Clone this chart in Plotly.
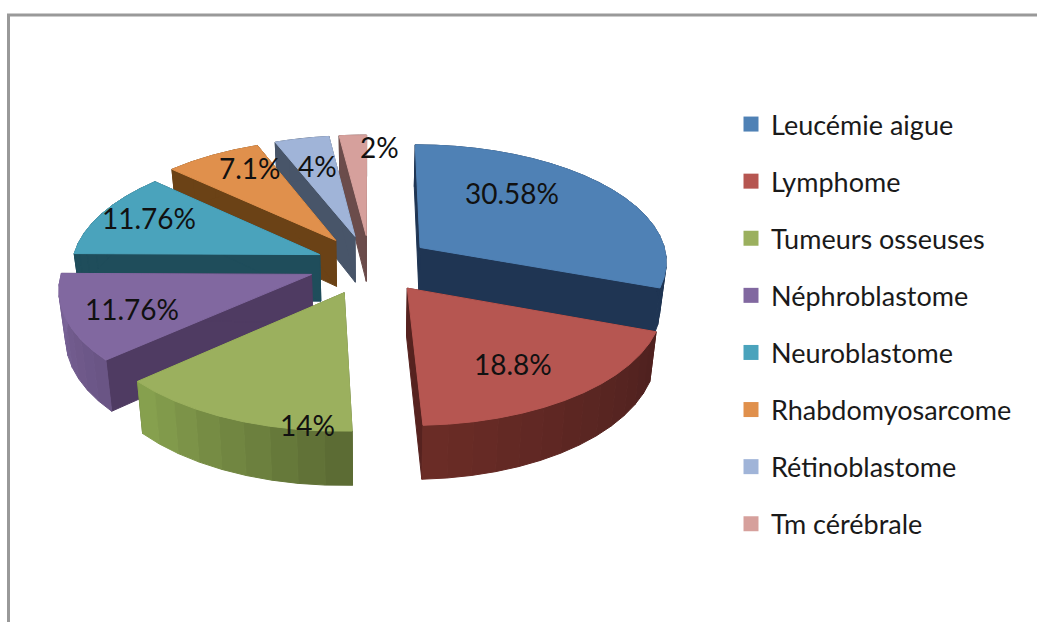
import math
import plotly.graph_objects as go

# ---- data ----
labels = ["Leucémie aigue", "Lymphome", "Tumeurs osseuses", "Néphroblastome",
          "Neuroblastome", "Rhabdomyosarcome", "Rétinoblastome", "Tm cérébrale"]
values = [30.58, 18.8, 14, 11.76, 11.76, 7.1, 4, 2]
value_text = ["30.58%", "18.8%", "14%", "11.76%", "11.76%", "7.1%", "4%", "2%"]
top_colors = ["#4F81B5", "#B65651", "#9BB05E", "#8168A0", "#4AA3BC", "#E0904C", "#A0B4D8", "#D6A09C"]
side_colors = ["#1F3553", "#56221F", "#60703A", "#4F3B62", "#1F4D5B", "#6B4216", "#485569", "#6B4C4B"]
outer_left = ["#1F3553", "#6A2C26", "#86A04E", "#7A6498", "#1F4D5B", "#6B4216", "#485569", "#6B4C4B"]
outer_right = ["#1F3553", "#4F211F", "#5C6C34", "#6A5585", "#1F4D5B", "#6B4216", "#485569", "#6B4C4B"]

# ---- projection of the tilted pie ----
CX, CY = 370, 264
RX, RY = 248, 117
PERSP = 0.107
CONVERGE = 0.022
explode = [0.25, 0.25, 0.26, 0.25, 0.22, 0.25, 0.25, 0.25]
HEIGHT = 47
LABEL_R = 0.68
label_nudge = [(-37, -12), (-5, 4), (38, 49), (-14, 5), (-21, -8), (0, -13), (0, -2), (23, -18)]


def project(wx, wy, wz=0.0):
    s = 1 / (1 + PERSP * wy)
    return CX + RX * wx * s * (1 - CONVERGE * wz), CY - RY * wy * s + HEIGHT * wz * s


def mix(a, b, t):
    ca = [int(a[i:i + 2], 16) for i in (1, 3, 5)]
    cb = [int(b[i:i + 2], 16) for i in (1, 3, 5)]
    return "rgb(%d,%d,%d)" % tuple(round(p + (q - p) * t) for p, q in zip(ca, cb))


fig = go.Figure()


def poly(points, color):
    fig.add_trace(go.Scatter(
        x=[p[0] for p in points] + [points[0][0]],
        y=[p[1] for p in points] + [points[0][1]],
        mode="lines", fill="toself", fillcolor=color,
        line=dict(color=color, width=1),
        hoverinfo="skip", showlegend=False))


total = sum(values)
slices = []
cum = 0.0
for i, v in enumerate(values):
    a0 = cum / total * 2 * math.pi
    cum += v
    a1 = cum / total * 2 * math.pi
    mid = (a0 + a1) / 2
    slices.append((i, a0, a1, mid, explode[i] * math.sin(mid), explode[i] * math.cos(mid)))

# back to front
for i, a0, a1, mid, ox, oy in sorted(slices, key=lambda s: -s[5]):
    n = max(4, int((a1 - a0) / (2 * math.pi) * 70))
    angles = [a0 + (a1 - a0) * k / n for k in range(n + 1)]
    rim = [(ox + math.sin(a), oy + math.cos(a)) for a in angles]
    # radial walls
    for edge in (rim[0], rim[-1]):
        poly([project(ox, oy), project(*edge), project(*edge, 1), project(ox, oy, 1)], side_colors[i])
    # curved wall, painted in bands (the clockwise start of a slice is its right side)
    for k in range(n):
        t = 1 - k / max(1, n - 1)
        poly([project(*rim[k]), project(*rim[k + 1]), project(*rim[k + 1], 1), project(*rim[k], 1)],
             mix(outer_left[i], outer_right[i], t))
    # top face
    poly([project(ox, oy)] + [project(*p) for p in rim], top_colors[i])

# ---- legend ----
for i, name in enumerate(labels):
    fig.add_trace(go.Scatter(
        x=[None], y=[None], mode="markers", name=name, legendgroup=name,
        marker=dict(symbol="square", size=15, color=top_colors[i], line=dict(width=0))))

# ---- value labels ----
for i, a0, a1, mid, ox, oy in slices:
    x, y = project(ox + LABEL_R * math.sin(mid), oy + LABEL_R * math.cos(mid))
    fig.add_annotation(x=x, y=y, text=value_text[i], showarrow=False,
                       xshift=label_nudge[i][0], yshift=-label_nudge[i][1],
                       font=dict(family="Lato", size=28, color="#111111"))

fig.add_shape(type="line", xref="paper", yref="paper", x0=8.5 / 1037, x1=8.5 / 1037, y0=0, y1=1 - 15 / 622,
              line=dict(color="#999999", width=3))
fig.add_shape(type="line", xref="paper", yref="paper", x0=7 / 1037, x1=1, y0=1 - 15 / 622, y1=1 - 15 / 622,
              line=dict(color="#999999", width=3))

fig.update_layout(
    width=1037, height=622, margin=dict(l=0, r=0, t=0, b=0),
    paper_bgcolor="white", plot_bgcolor="white",
    xaxis=dict(range=[0, 1037], visible=False, fixedrange=True),
    yaxis=dict(range=[622, 0], visible=False, fixedrange=True),
    legend=dict(x=731 / 1037, y=1 - 100 / 622, xanchor="left", yanchor="top",
                tracegroupgap=19, itemsizing="trace",
                font=dict(family="Lato", size=27, color="#1a1a1a"),
                bgcolor="rgba(0,0,0,0)"),
)
fig.write_html("out.html", config={"displayModeBar": False},
               post_script="document.body.style.margin='0';")
